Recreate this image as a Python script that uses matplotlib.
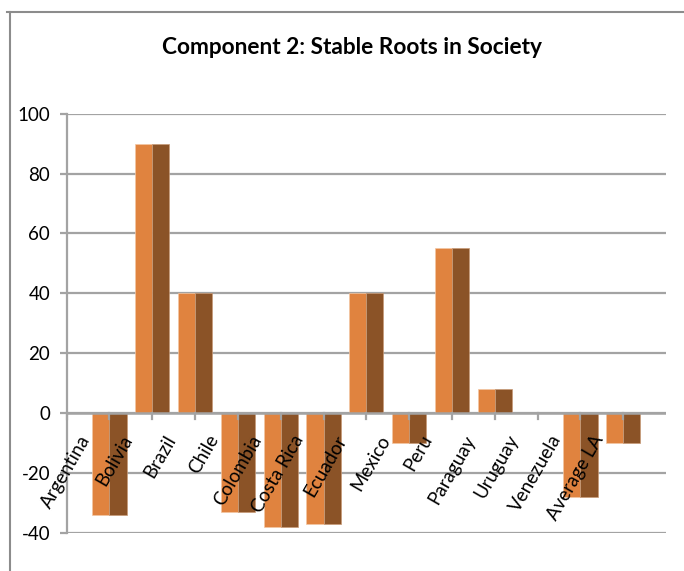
import numpy as np
import matplotlib
matplotlib.use('Agg')
import matplotlib.pyplot as plt
import matplotlib.transforms as mtransforms
from matplotlib.lines import Line2D

# Country scores for component 2
countries = ['Argentina', 'Bolivia', 'Brazil', 'Chile', 'Colombia', 'Costa Rica',
             'Ecuador', 'Mexico', 'Peru', 'Paraguay', 'Uruguay', 'Venezuela', 'Average LA']
scores = [-34, 90, 40, -33, -38, -37, 40, -10, 55, 8, 0, -28, -10]
y_ticks = [-40, -20, 0, 20, 40, 60, 80, 100]

LIGHT = '#E0833F'
DARK = '#8B5327'
GRID = '#A3A3A3'

plt.rcParams['font.family'] = ['Lato', 'DejaVu Sans']

fig = plt.figure(figsize=(6.84, 5.71), dpi=100)
ax = fig.add_axes([0.0975, 0.0671, 0.8762, 0.7338])

n = len(countries)
bar_x = np.arange(n) + 1
label_x = np.arange(n) + 0.5

# each bar is drawn as a light left half and a dark right half
ax.bar(bar_x - 0.2, scores, width=0.4, color=LIGHT, edgecolor='#F3C7A3', linewidth=0.5, zorder=3)
ax.bar(bar_x + 0.2, scores, width=0.4, color=DARK, edgecolor='#C79A78', linewidth=0.5, zorder=3)

ax.set_xlim(0, n + 1)
ax.set_ylim(-40, 100)
ax.set_yticks(y_ticks)
ax.set_yticklabels([str(v) for v in y_ticks], fontsize=13.5)
ax.yaxis.grid(True, color=GRID, linewidth=1.6, zorder=0)
ax.set_axisbelow(True)

for side in ['top', 'right', 'bottom']:
    ax.spines[side].set_visible(False)
ax.spines['left'].set_color(GRID)
ax.spines['left'].set_linewidth(1.6)
ax.tick_params(axis='y', length=5, width=1.6, color=GRID, pad=7)

# category axis sits on zero, ticks between the categories
ax.axhline(0, color=GRID, linewidth=1.8, zorder=4)
ax.set_xticks([])
for xt in range(n + 1):
    ax.plot([xt, xt], [0, -2], color=GRID, linewidth=1.6, zorder=4, clip_on=False)

offset = mtransforms.offset_copy(ax.transData, fig=fig, x=5, y=-19, units='dots')
for x, name in zip(label_x, countries):
    ax.text(x, 0, name, rotation=60, ha='right', va='top', fontsize=13.5,
            transform=offset, zorder=5)

fig.text(0.5146, 0.916, 'Component 2: Stable Roots in Society', ha='center', va='center',
         fontsize=16.3, fontweight='bold')

# outer chart frame (left and top edges)
fig.add_artist(Line2D([10 / 684, 10 / 684], [0, 1 - 12 / 571], color='#8C8C8C', linewidth=1.5))
fig.add_artist(Line2D([7 / 684, 1], [1 - 12 / 571, 1 - 12 / 571], color='#8C8C8C', linewidth=1.5))

fig.savefig('out.png', dpi=100)
